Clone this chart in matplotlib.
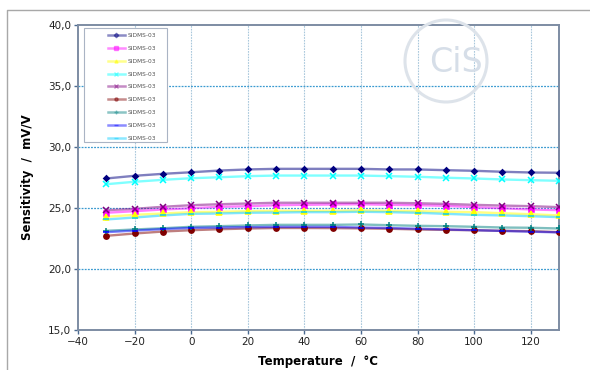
import numpy as np
import matplotlib
matplotlib.use("Agg")
import matplotlib.pyplot as plt
import matplotlib.ticker as ticker
from matplotlib.lines import Line2D
from matplotlib.patches import Circle, Rectangle

# temperatures (degC)
temps = [-30, -20, -10, 0, 10, 20, 30, 40, 50, 60, 70, 80, 90, 100, 110, 120, 130]

# sensitivity (mV/V) of each sensor
s1 = [27.42, 27.64, 27.80, 27.93, 28.07, 28.16, 28.21, 28.21, 28.21, 28.21, 28.16, 28.16, 28.10, 28.05, 27.97, 27.91, 27.89]
s2 = [24.61, 24.74, 24.88, 24.98, 25.10, 25.15, 25.23, 25.26, 25.29, 25.31, 25.26, 25.23, 25.18, 25.07, 24.98, 24.88, 24.82]
s3 = [24.28, 24.44, 24.55, 24.66, 24.69, 24.74, 24.77, 24.77, 24.77, 24.80, 24.77, 24.74, 24.69, 24.66, 24.57, 24.49, 24.39]
s4 = [26.95, 27.15, 27.31, 27.44, 27.52, 27.61, 27.66, 27.66, 27.66, 27.66, 27.61, 27.56, 27.48, 27.42, 27.34, 27.28, 27.23]
s5 = [24.82, 24.93, 25.10, 25.23, 25.31, 25.37, 25.43, 25.43, 25.43, 25.43, 25.43, 25.39, 25.34, 25.26, 25.20, 25.15, 25.07]
s6 = [22.72, 22.91, 23.07, 23.18, 23.26, 23.32, 23.36, 23.36, 23.35, 23.33, 23.30, 23.24, 23.21, 23.18, 23.13, 23.10, 23.02]
s7 = [23.13, 23.24, 23.34, 23.46, 23.51, 23.57, 23.62, 23.62, 23.62, 23.65, 23.59, 23.54, 23.51, 23.46, 23.40, 23.38, 23.32]
s8 = [23.02, 23.15, 23.27, 23.37, 23.40, 23.43, 23.45, 23.45, 23.45, 23.40, 23.36, 23.30, 23.24, 23.18, 23.12, 23.06, 23.00]
s9 = [24.06, 24.22, 24.39, 24.52, 24.55, 24.61, 24.63, 24.66, 24.66, 24.69, 24.66, 24.61, 24.52, 24.44, 24.39, 24.33, 24.25]

series = [s1, s2, s3, s4, s5, s6, s7, s8, s9]
labels = ["SIDMS-03"] * 9
colors = ["#000080", "#ff00ff", "#ffff00", "#00ffff", "#800080",
          "#800000", "#008080", "#0000ff", "#00ccff"]
markers = ["D", "s", "^", "x", "x", "o", "+", "_", "_"]
msizes = [2.8, 3.6, 3.8, 3.8, 3.8, 3.8, 4.2, 4.2, 4.2]

plt.rcParams["font.family"] = "DejaVu Sans"

fig = plt.figure(figsize=(5.9, 3.7), dpi=100)
ax = fig.add_axes([78 / 590, 1 - 330 / 370, (559 - 78) / 590, (330 - 25) / 370])

for ys, lab, c, m, ms in zip(series, labels, colors, markers, msizes):
    ax.plot(temps, ys, color=c, alpha=0.5, lw=1.7, zorder=3)
    ax.plot(temps, ys, linestyle="none", marker=m, color=c, ms=ms,
            mew=1.1, zorder=4)

ax.set_xlim(-40, 130)
ax.set_ylim(15, 40)
ax.xaxis.set_major_locator(ticker.MultipleLocator(20))
ax.yaxis.set_major_locator(ticker.MultipleLocator(5))
ax.yaxis.set_major_formatter(ticker.FuncFormatter(lambda v, p: f"{v:.1f}".replace(".", ",")))

for y in [20, 25, 30, 35]:
    ax.axhline(y, color="#3a9ad0", lw=0.9, ls=(0, (1.5, 1)), zorder=1)
for x in range(-20, 130, 20):
    ax.axvline(x, color="#a9c8dc", lw=0.8, ls=(0, (1.5, 1)), zorder=1)

for sp in ax.spines.values():
    sp.set_color("#7d8ca3")
    sp.set_linewidth(1.4)

ax.tick_params(axis="both", direction="out", length=3, width=1, color="#4a6a90",
               labelsize=7.5, labelcolor="#222222", pad=2)

ax.set_xlabel("Temperature  /  \u00b0C", fontsize=8.5, fontweight="bold", labelpad=6)
ax.set_ylabel("Sensitivity  /  mV/V", fontsize=8.5, fontweight="bold", labelpad=10)

# legend (frame drawn separately, like the Excel box)
handles = [Line2D([], [], color=c, lw=1.8, alpha=0.45, marker=m, ms=2.3,
                  markerfacecolor=c, markeredgecolor=c)
           for c, m in zip(colors, markers)]
leg = ax.legend(handles, labels, loc="upper left",
                bbox_to_anchor=((103 - 78) / 481, 1 - (28 - 25) / 305),
                fontsize=4.2, frameon=False, handlelength=2.8,
                labelspacing=1.32, borderpad=0.9, handletextpad=0.5,
                borderaxespad=0)
for t in leg.get_texts():
    t.set_color("#555555")
ax.add_patch(Rectangle(((84 - 78) / 481, 1 - (142 - 25) / 305), 83 / 481, 114 / 305,
                       transform=ax.transAxes, fill=True, fc="white",
                       ec="#aab4c4", lw=0.8, zorder=5))
leg.set_zorder(6)

# watermark logo
fig.patches.append(Circle((446, 370 - 61), 41, transform=None,
                          fill=False, ec="#dde3ea", lw=2.2, zorder=2))
fig.text((456) / 590, 1 - 62 / 370, "CiS", fontsize=24, color="#d6dee8",
         ha="center", va="center", zorder=2)

# outer chart border
fig.add_artist(Line2D([7 / 590, 7 / 590, 1], [0, 1 - 10 / 370, 1 - 10 / 370],
                      color="#a8a8a8", lw=1.0))

fig.savefig("out.png", dpi=100)
